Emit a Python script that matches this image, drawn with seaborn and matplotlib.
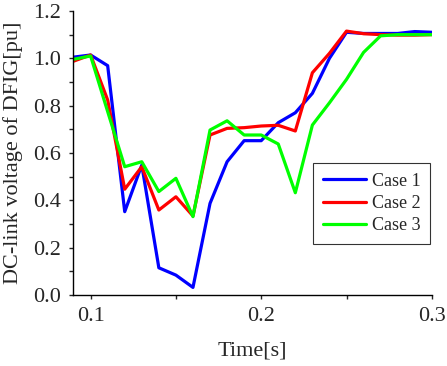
import matplotlib
matplotlib.use("Agg")
import matplotlib.pyplot as plt
import seaborn as sns
import pandas as pd
from matplotlib.ticker import MultipleLocator, FormatStrFormatter

# time points [s]
time = [0.09, 0.10, 0.11, 0.12, 0.13, 0.14, 0.15, 0.16, 0.17, 0.18, 0.19,
        0.20, 0.21, 0.22, 0.23, 0.24, 0.25, 0.26, 0.27, 0.28, 0.29, 0.30]

# DC-link voltage [pu]
case1 = [1.005, 1.014, 0.969, 0.352, 0.549, 0.115, 0.084, 0.032, 0.387, 0.563, 0.652,
         0.652, 0.728, 0.770, 0.852, 1.000, 1.110, 1.105, 1.105, 1.105, 1.113, 1.110]
case2 = [0.988, 1.014, 0.824, 0.447, 0.542, 0.359, 0.415, 0.334, 0.676, 0.704, 0.707,
         0.714, 0.717, 0.693, 0.939, 1.021, 1.115, 1.104, 1.100, 1.098, 1.098, 1.100]
case3 = [0.996, 1.010, 0.775, 0.542, 0.563, 0.437, 0.493, 0.331, 0.697, 0.736, 0.676,
         0.676, 0.638, 0.432, 0.718, 0.812, 0.911, 1.025, 1.095, 1.100, 1.100, 1.100]

cases = ["Case 1", "Case 2", "Case 3"]
colors = ["#0000ff", "#ff0000", "#00ff00"]

df = pd.concat([
    pd.DataFrame({"time": time, "voltage": v, "case": c})
    for c, v in zip(cases, [case1, case2, case3])
])

sns.set_style("ticks")
plt.rcParams["font.family"] = ["Liberation Serif", "DejaVu Serif"]

fig = plt.figure(figsize=(4.47, 3.66), dpi=100)
ax = fig.add_axes([0.163, 0.194, 0.803, 0.776])

sns.lineplot(data=df, x="time", y="voltage", hue="case", hue_order=cases,
             palette=colors, linewidth=2.3, ax=ax)

ax.set_xlim(0.0896, 0.3)
ax.set_ylim(0, 1.2)
ax.xaxis.set_major_locator(MultipleLocator(0.1))
ax.xaxis.set_minor_locator(MultipleLocator(0.05))
ax.yaxis.set_major_locator(MultipleLocator(0.2))
ax.yaxis.set_minor_locator(MultipleLocator(0.1))
ax.xaxis.set_major_formatter(FormatStrFormatter("%.1f"))
ax.yaxis.set_major_formatter(FormatStrFormatter("%.1f"))
ax.tick_params(which="both", direction="out", length=3, width=1, labelsize=16, pad=5.5)

for s in ["top", "right"]:
    ax.spines[s].set_visible(False)
for s in ["left", "bottom"]:
    ax.spines[s].set_linewidth(1)
    ax.spines[s].set_color("black")

ax.set_xlabel("Time[s]", fontsize=16, labelpad=11)
ax.set_ylabel("DC-link voltage of DFIG[pu]", fontsize=16, labelpad=7)

leg = ax.legend(loc="upper left", bbox_to_anchor=(0.669, 0.466), borderaxespad=0,
                fontsize=13, frameon=True, fancybox=False, handlelength=2.4,
                borderpad=0.55, labelspacing=0.3, handletextpad=0.3)
leg.get_frame().set_edgecolor("black")
leg.get_frame().set_linewidth(0.8)

fig.savefig("out.png", dpi=100)
